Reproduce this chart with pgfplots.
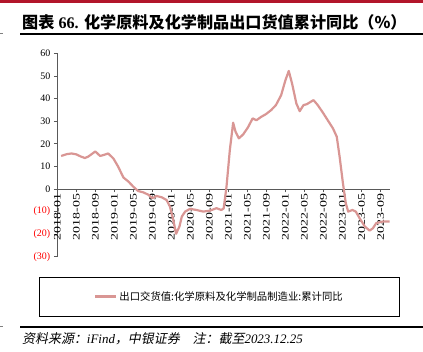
\documentclass[border=0pt]{standalone}
\usepackage{pgfplots}
\pgfplotsset{compat=1.18}
\usepackage{fontspec}
\setmainfont{Liberation Serif}
\newfontfamily\cjk{Noto Sans CJK SC}
\newfontfamily\cjkit[FakeSlant=0.2]{Noto Sans CJK SC}
\definecolor{lineC}{RGB}{217,150,148}
\definecolor{barC}{RGB}{178,22,42}
\definecolor{axC}{RGB}{89,89,89}
\newcommand\sx[1]{\scalebox{1.4}[1]{#1}}
\begin{document}
\begin{tikzpicture}
\path[use as bounding box] (0,0) rectangle (423bp,352bp);
\fill[barC] (0,349bp) rectangle (423bp,352bp);
\node[anchor=west,inner sep=0pt,font=\fontsize{16.2}{18}\selectfont] at (22bp,330bp)
  {{\cjk\bfseries 图表} {\bfseries 66.} {\cjk\bfseries 化学原料及化学制品出口货值累计同比（\%）}};
\draw[line width=1.1bp] (20bp,318bp) -- (423bp,318bp);
\draw[line width=0.6bp,gray] (0,318.5bp) -- (3bp,318.5bp);
\draw[line width=1.1bp] (20bp,25bp) -- (423bp,25bp);
\draw[line width=0.6bp,gray] (0,25.5bp) -- (3bp,25.5bp);
\node[anchor=west,inner sep=0pt,font=\fontsize{13}{15}\selectfont] at (22bp,13bp)
  {{\cjkit 资料来源：}{\itshape iFind}{\cjkit ，中银证券\quad 注：截至}{\itshape 2023.12.25}};
\draw[line width=0.7bp] (39bp,36bp) rectangle (399bp,75bp);
\begin{axis}[
  at={(57.3bp,95.2bp)}, anchor=south west,
  scale only axis, width=332.7bp, height=203.5bp,
  xmin=0, xmax=70, ymin=-30, ymax=60,
  axis x line=middle, axis y line=left,
  axis line style={axC, line width=0.9bp, -},
  hide obscured x ticks=false, hide obscured y ticks=false,
  tick align=outside, major tick length=3.5bp,
  tick style={axC, line width=0.7bp},
  xtick={0,4,...,68},
  xticklabels={\sx{2018-01},\sx{2018-05},\sx{2018-09},\sx{2019-01},\sx{2019-05},\sx{2019-09},\sx{2020-01},\sx{2020-05},\sx{2020-09},\sx{2021-01},\sx{2021-05},\sx{2021-09},\sx{2022-01},\sx{2022-05},\sx{2022-09},\sx{2023-01},\sx{2023-05},\sx{2023-09}},
  xticklabel style={rotate=90, anchor=east, font=\fontsize{10}{12}\selectfont, inner sep=1bp},
  ytick={-30,-20,...,60},
  yticklabels={\textcolor{red}{(30)},\textcolor{red}{(20)},\textcolor{red}{(10)},0,10,20,30,40,50,60},
  yticklabel style={font=\fontsize{10}{12}\selectfont},
  legend style={draw=none, fill=none, at={(0.4875,-0.195)}, anchor=center,
    font=\fontsize{10.4}{12}\selectfont\cjk, inner sep=1bp},
  legend image code/.code={\draw[#1] (0bp,0bp) -- (21bp,0bp);},
  clip=false,
]
\addplot[lineC, line width=2.2bp, line join=round] table {
x y
0.8 14.6
2 15.4
3 15.7
4 15.3
5 14.3
5.8 13.7
6.5 14.3
8 16.6
9 14.6
9.7 15.0
10.7 15.7
11.8 13.5
12.8 9.9
13.9 5.1
15 3.2
16 1.0
17 -0.9
18.1 -1.5
19.2 -2.6
20 -4.1
20.9 -3.1
22 -3.7
23 -4.9
23.7 -7.8
24.4 -13.7
25 -19.8
25.7 -16.6
26.2 -12.2
26.9 -10
27.9 -8.8
29.3 -9.3
30.7 -10
32.1 -9.6
33.5 -8.5
34.5 -9.3
35 -8.6
35.6 1
36.3 17.2
37 29.3
37.5 25.3
38.2 22.4
39.1 24.1
40.1 27.2
41.1 31.2
41.9 30.4
42.9 31.9
43.9 33.1
45 34.9
46 37.1
47.1 41.5
48 48.1
48.7 52.2
49.4 46.6
50.3 37.8
51 34.4
51.8 37.1
52.5 37.5
53.9 39.3
54.8 37.1
55.9 33.7
56.9 30.4
58 26.8
58.8 23.1
59.4 14.3
60.1 2.5
60.7 -6.3
61.2 -10
62.1 -9.3
62.8 -10
63.6 -12.9
64.7 -16.6
65.7 -18.4
66.4 -17.4
67.1 -15.1
68.5 -14.4
69.9 -14.4
};
\addlegendentry{出口交货值:化学原料及化学制品制造业:累计同比}
\end{axis}
\end{tikzpicture}
\end{document}
